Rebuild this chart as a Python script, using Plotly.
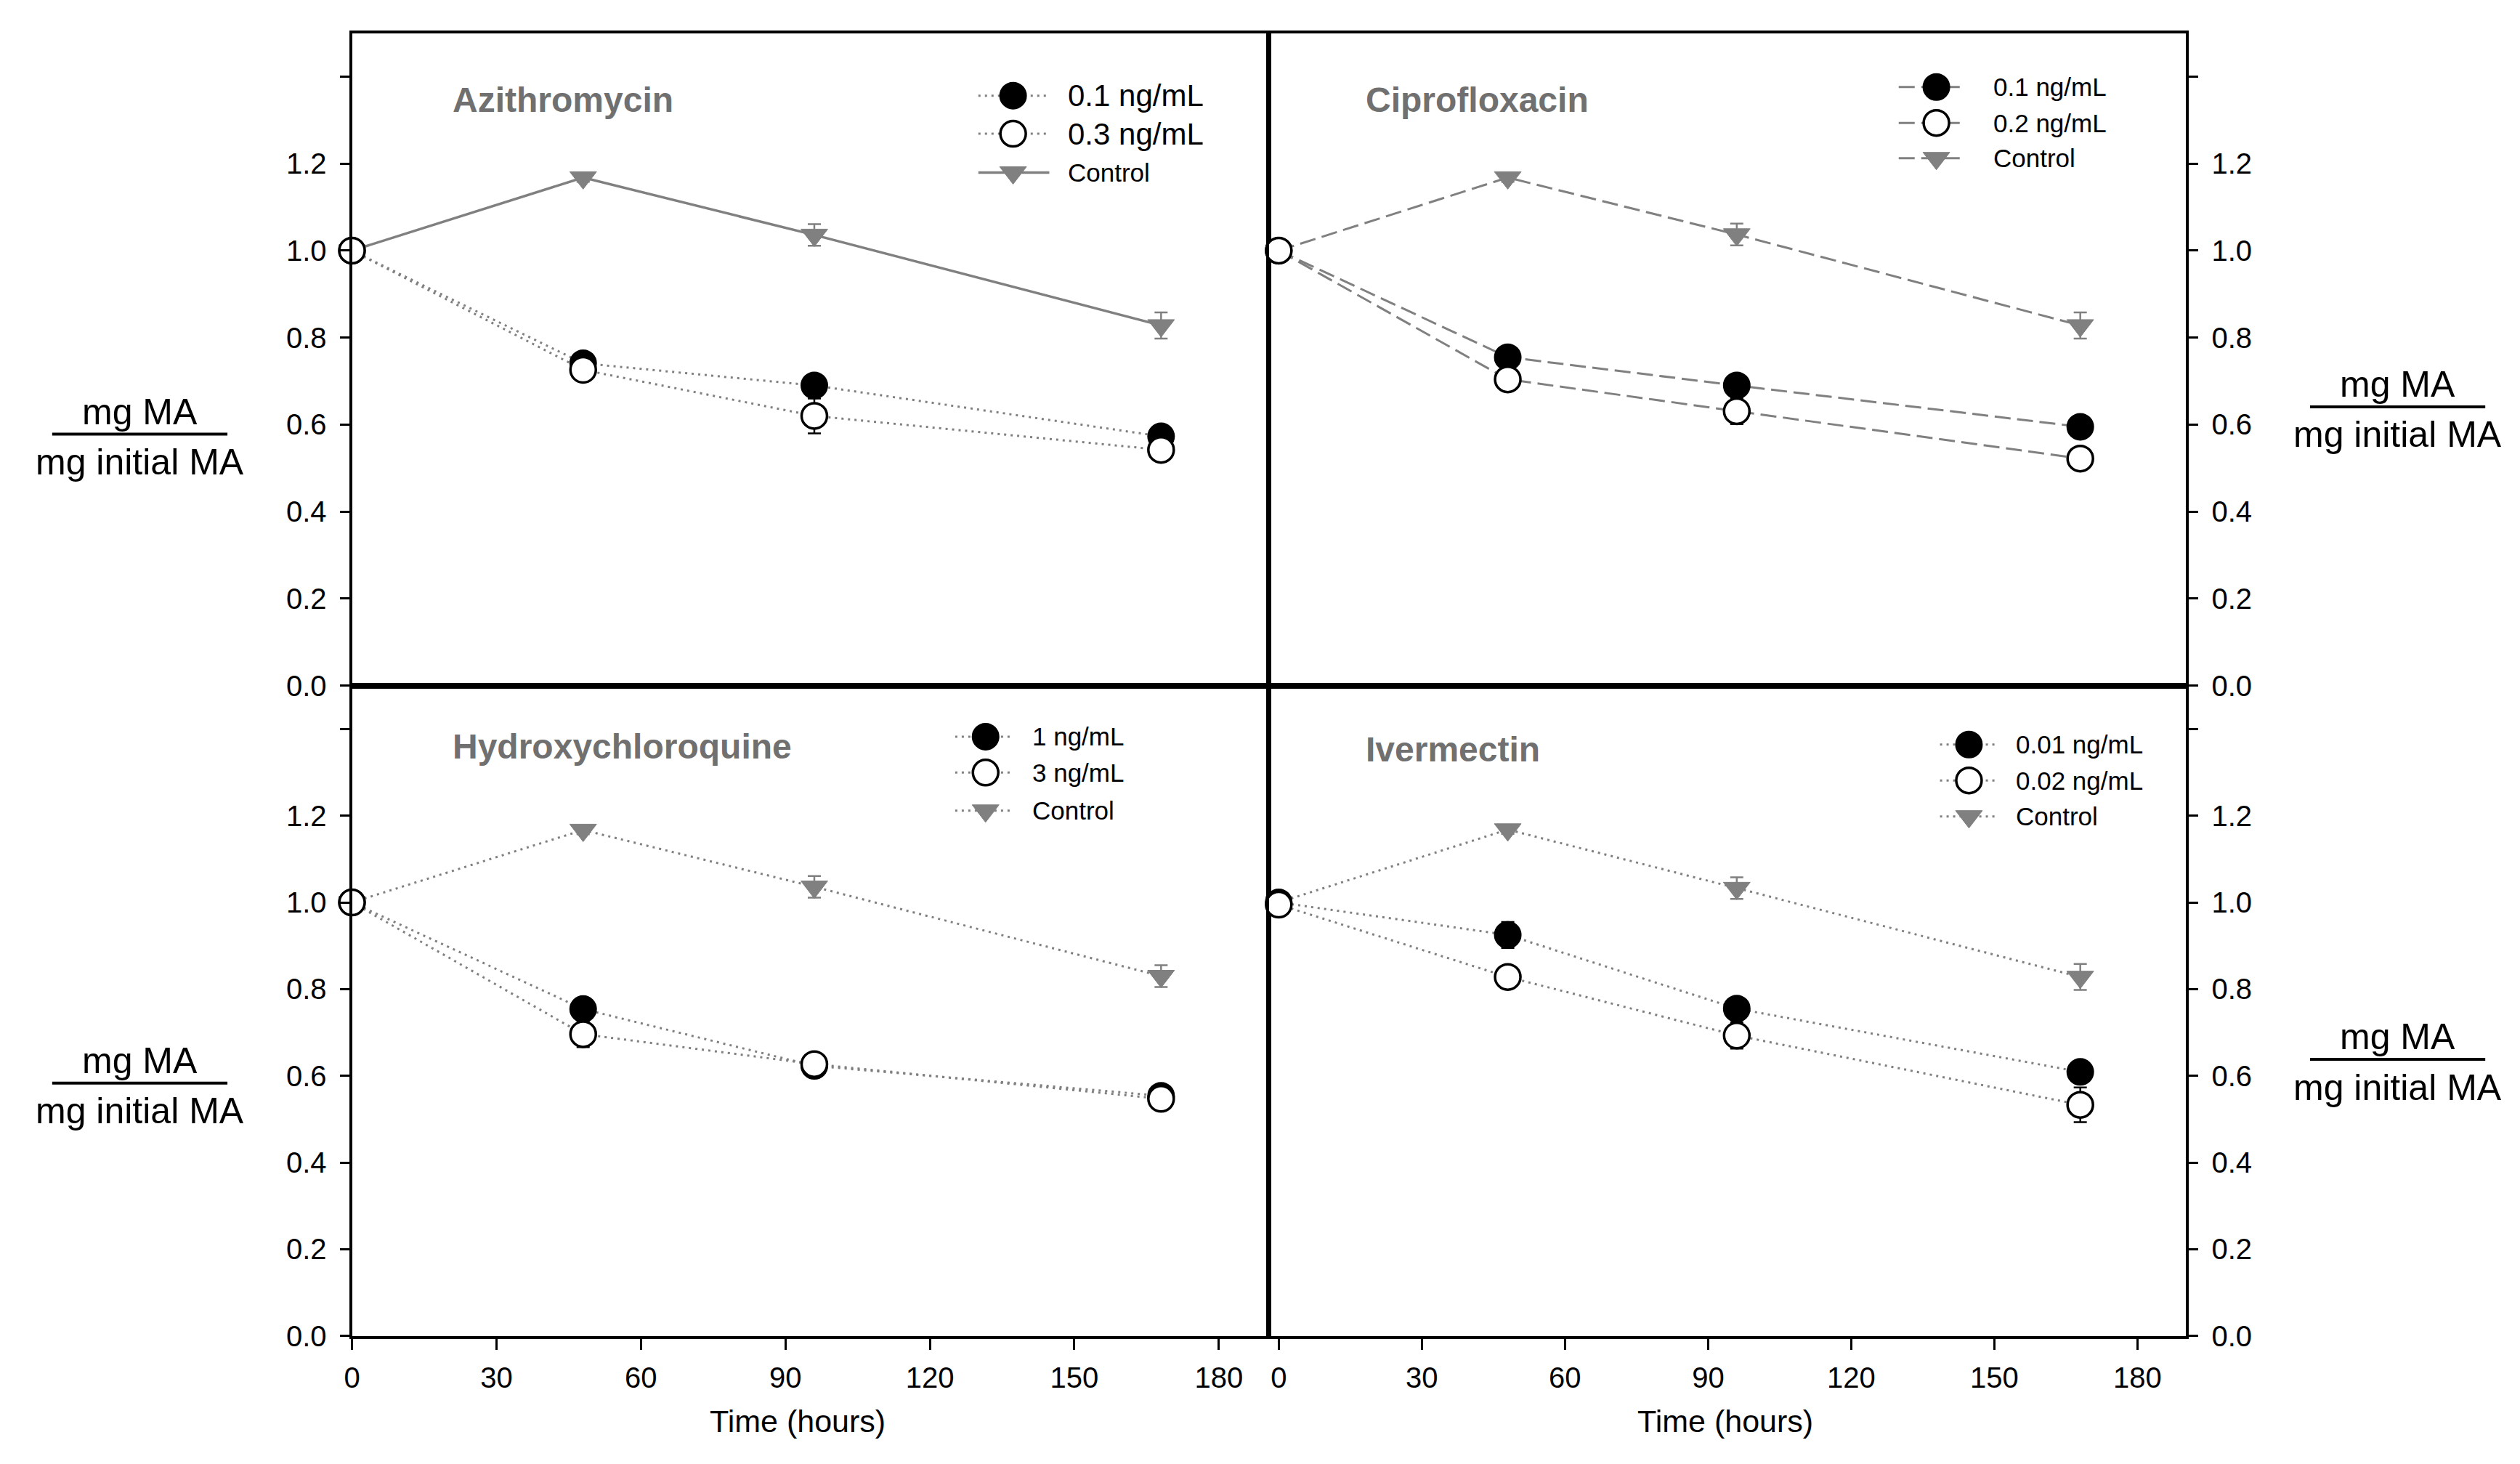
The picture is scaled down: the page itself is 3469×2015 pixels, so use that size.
import plotly.graph_objects as go

W, H = 3469, 2015
FONT = "Liberation Sans, Arial, sans-serif"
GRAY = "#808080"
TITLE_GRAY = "#707070"

# ---------------- data ----------------
time_h = [0, 48, 96, 168]

azi_names = ["0.1 ng/mL", "0.3 ng/mL", "Control"]
azi_low = [1.0, 0.741, 0.690, 0.573]
azi_low_err = [0.0, 0.010, 0.020, 0.012]
azi_high = [1.0, 0.726, 0.620, 0.542]
azi_high_err = [0.0, 0.015, 0.040, 0.010]
azi_ctrl = [1.0, 1.168, 1.036, 0.828]
azi_ctrl_err = [0.0, 0.010, 0.025, 0.030]

cip_names = ["0.1 ng/mL", "0.2 ng/mL", "Control"]
cip_low = [1.0, 0.755, 0.690, 0.595]
cip_low_err = [0.0, 0.012, 0.012, 0.010]
cip_high = [1.0, 0.704, 0.631, 0.522]
cip_high_err = [0.0, 0.020, 0.030, 0.010]
cip_ctrl = [1.0, 1.168, 1.037, 0.828]
cip_ctrl_err = [0.0, 0.010, 0.025, 0.030]

hcq_names = ["1 ng/mL", "3 ng/mL", "Control"]
hcq_low = [1.0, 0.754, 0.623, 0.554]
hcq_low_err = [0.0, 0.010, 0.010, 0.012]
hcq_high = [1.0, 0.696, 0.627, 0.547]
hcq_high_err = [0.0, 0.030, 0.010, 0.025]
hcq_ctrl = [1.0, 1.167, 1.036, 0.830]
hcq_ctrl_err = [0.0, 0.010, 0.025, 0.025]

ivm_names = ["0.01 ng/mL", "0.02 ng/mL", "Control"]
ivm_low = [1.0, 0.925, 0.755, 0.609]
ivm_low_err = [0.0, 0.030, 0.010, 0.015]
ivm_high = [0.995, 0.828, 0.693, 0.533]
ivm_high_err = [0.0, 0.020, 0.030, 0.040]
ivm_ctrl = [1.0, 1.168, 1.033, 0.828]
ivm_ctrl_err = [0.0, 0.010, 0.025, 0.030]

panel_titles = ["Azithromycin", "Ciprofloxacin", "Hydroxychloroquine", "Ivermectin"]
y_tick_vals = [0.0, 0.2, 0.4, 0.6, 0.8, 1.0, 1.2, 1.4]
y_tick_text = ["0.0", "0.2", "0.4", "0.6", "0.8", "1.0", "1.2", ""]
x_tick_vals = [0, 30, 60, 90, 120, 150, 180]
x_title = "Time (hours)"
y_title_top = "mg MA"
y_title_bottom = "mg initial MA"

# ---------------- styles / layout constants ----------------
DOT = "3px,6px"
DASH = "22px,9px"

panels = [
    dict(title=panel_titles[0], names=azi_names,
         series=[(azi_low, azi_low_err), (azi_high, azi_high_err), (azi_ctrl, azi_ctrl_err)],
         dashes=[DOT, DOT, "solid"], widths=[3, 3, 3.5], ax=("x", "y"),
         leg=dict(sym=1380, l0=1332, l1=1430, tx=1454, rows=[125, 178, 232], fs=[42, 42, 35]),
         title_xy=(604, 131)),
    dict(title=panel_titles[1], names=cip_names,
         series=[(cip_low, cip_low_err), (cip_high, cip_high_err), (cip_ctrl, cip_ctrl_err)],
         dashes=[DASH, DASH, DASH], widths=[3, 3, 3], ax=("x2", "y2"),
         leg=dict(sym=2655, l0=2603, l1=2695, tx=2732, rows=[113, 163, 212], fs=[35, 35, 35]),
         title_xy=(1865, 131)),
    dict(title=panel_titles[2], names=hcq_names,
         series=[(hcq_low, hcq_low_err), (hcq_high, hcq_high_err), (hcq_ctrl, hcq_ctrl_err)],
         dashes=[DOT, DOT, DOT], widths=[3, 3, 3], ax=("x3", "y3"),
         leg=dict(sym=1342, l0=1300, l1=1378, tx=1404, rows=[1017, 1067, 1120], fs=[35, 35, 35]),
         title_xy=(604, 1031)),
    dict(title=panel_titles[3], names=ivm_names,
         series=[(ivm_low, ivm_low_err), (ivm_high, ivm_high_err), (ivm_ctrl, ivm_ctrl_err)],
         dashes=[DOT, DOT, DOT], widths=[3, 3, 3], ax=("x4", "y4"),
         leg=dict(sym=2700, l0=2660, l1=2737, tx=2763, rows=[1028, 1078, 1128], fs=[35, 35, 35]),
         title_xy=(1865, 1035)),
]

marker_styles = [
    dict(symbol="circle", size=35, color="black", line=dict(color="black", width=3)),
    dict(symbol="circle", size=35, color="white", line=dict(color="black", width=3.5)),
    dict(symbol="triangle-down", size=32, color=GRAY, line=dict(color=GRAY, width=1)),
]
err_colors = ["black", "black", GRAY]
draw_order = [2, 0, 1]

fig = go.Figure()

for p in panels:
    xa, ya = p["ax"]
    for i in draw_order:
        vals, errs = p["series"][i]
        fig.add_trace(go.Scatter(
            x=time_h, y=vals, mode="lines+markers", name=p["names"][i],
            xaxis=xa, yaxis=ya, showlegend=False, cliponaxis=False,
            line=dict(color=GRAY, width=p["widths"][i], dash=p["dashes"][i]),
            marker=marker_styles[i],
            error_y=dict(type="data", array=errs, visible=True,
                         color=err_colors[i], thickness=2.5, width=9),
        ))
    # custom legend glyphs (drawn on a full-figure pixel axis)
    lg = p["leg"]
    for i in range(3):
        ry = lg["rows"][i]
        fig.add_trace(go.Scatter(
            x=[lg["l0"], lg["l1"]], y=[ry, ry], mode="lines", xaxis="x5", yaxis="y5",
            showlegend=False, hoverinfo="skip",
            line=dict(color=GRAY, width=p["widths"][i], dash=p["dashes"][i])))
        fig.add_trace(go.Scatter(
            x=[lg["sym"]], y=[ry], mode="markers", xaxis="x5", yaxis="y5",
            showlegend=False, hoverinfo="skip", marker=marker_styles[i]))

annotations = []
shapes = []


def px(x):
    return x / W


def py(y):
    return 1 - y / H


for p in panels:
    lg = p["leg"]
    for i in range(3):
        annotations.append(dict(
            x=lg["tx"], y=lg["rows"][i], xref="x5", yref="y5", text=p["names"][i],
            showarrow=False, xanchor="left", yanchor="middle",
            font=dict(family=FONT, size=lg["fs"][i], color="black")))
    tx, ty = p["title_xy"]
    annotations.append(dict(
        x=px(tx), y=py(ty), xref="paper", yref="paper", text="<b>" + p["title"] + "</b>",
        showarrow=False, xanchor="left", yanchor="middle",
        font=dict(family=FONT, size=48, color=TITLE_GRAY)))

# y-axis fraction titles
frac_specs = [(174, 596), (174, 1499), (3292, 558), (3292, 1466)]
for cx, ly in frac_specs:
    shapes.append(dict(type="line", xref="paper", yref="paper",
                       x0=px(cx - 121), x1=px(cx + 121), y0=py(ly), y1=py(ly),
                       line=dict(color="black", width=4)))
    annotations.append(dict(x=px(cx), y=py(ly - 31), xref="paper", yref="paper",
                            text=y_title_top, showarrow=False, xanchor="center", yanchor="middle",
                            font=dict(family=FONT, size=50, color="black")))
    annotations.append(dict(x=px(cx), y=py(ly + 39), xref="paper", yref="paper",
                            text=y_title_bottom, showarrow=False, xanchor="center", yanchor="middle",
                            font=dict(family=FONT, size=50, color="black")))

# x-axis titles
for cx in (1082, 2363):
    annotations.append(dict(x=px(cx), y=py(1970), xref="paper", yref="paper",
                            text=x_title, showarrow=False, xanchor="center", yanchor="middle",
                            font=dict(family=FONT, size=43, color="black")))

xdom_L = [px(467), px(1732)]
xdom_R = [px(1733), px(3000)]
ydom_T = [py(946), py(38)]
ydom_B = [py(1851), py(946)]

base = dict(showline=True, linecolor="black", linewidth=4, mirror=True,
            showgrid=False, zeroline=False)
tickfont = dict(family=FONT, size=40, color="black")


def yax(dom, side, anchor):
    return dict(base, domain=dom, range=[0, 1.5], side=side, anchor=anchor,
                ticks="outside", ticklen=13, tickwidth=3, tickcolor="black",
                tickvals=y_tick_vals, ticktext=y_tick_text, tickfont=tickfont,
                ticklabelstandoff=10)


def xax(dom, rng, anchor, labels):
    d = dict(base, domain=dom, range=rng, anchor=anchor)
    if labels:
        d.update(ticks="outside", ticklen=15, tickwidth=3, tickcolor="black",
                 tickvals=x_tick_vals, tickfont=tickfont, ticklabelstandoff=4)
    else:
        d.update(ticks="", showticklabels=False)
    return d


fig.update_layout(
    width=W, height=H,
    margin=dict(l=0, r=0, t=0, b=0),
    paper_bgcolor="white", plot_bgcolor="rgba(0,0,0,0)",
    showlegend=False,
    font=dict(family=FONT, color="black"),
    xaxis=xax(xdom_L, [0, 190.2], "y", False),
    yaxis=yax(ydom_T, "left", "x"),
    xaxis2=xax(xdom_R, [-2.1, 190.2], "y2", False),
    yaxis2=yax(ydom_T, "right", "x2"),
    xaxis3=xax(xdom_L, [0, 190.2], "y3", True),
    yaxis3=yax(ydom_B, "left", "x3"),
    xaxis4=xax(xdom_R, [-2.1, 190.2], "y4", True),
    yaxis4=yax(ydom_B, "right", "x4"),
    xaxis5=dict(domain=[0, 1], range=[0, W], visible=False, anchor="y5", fixedrange=True),
    yaxis5=dict(domain=[0, 1], range=[H, 0], visible=False, anchor="x5", fixedrange=True),
    annotations=annotations,
    shapes=shapes,
)

fig.write_html("out.html")
